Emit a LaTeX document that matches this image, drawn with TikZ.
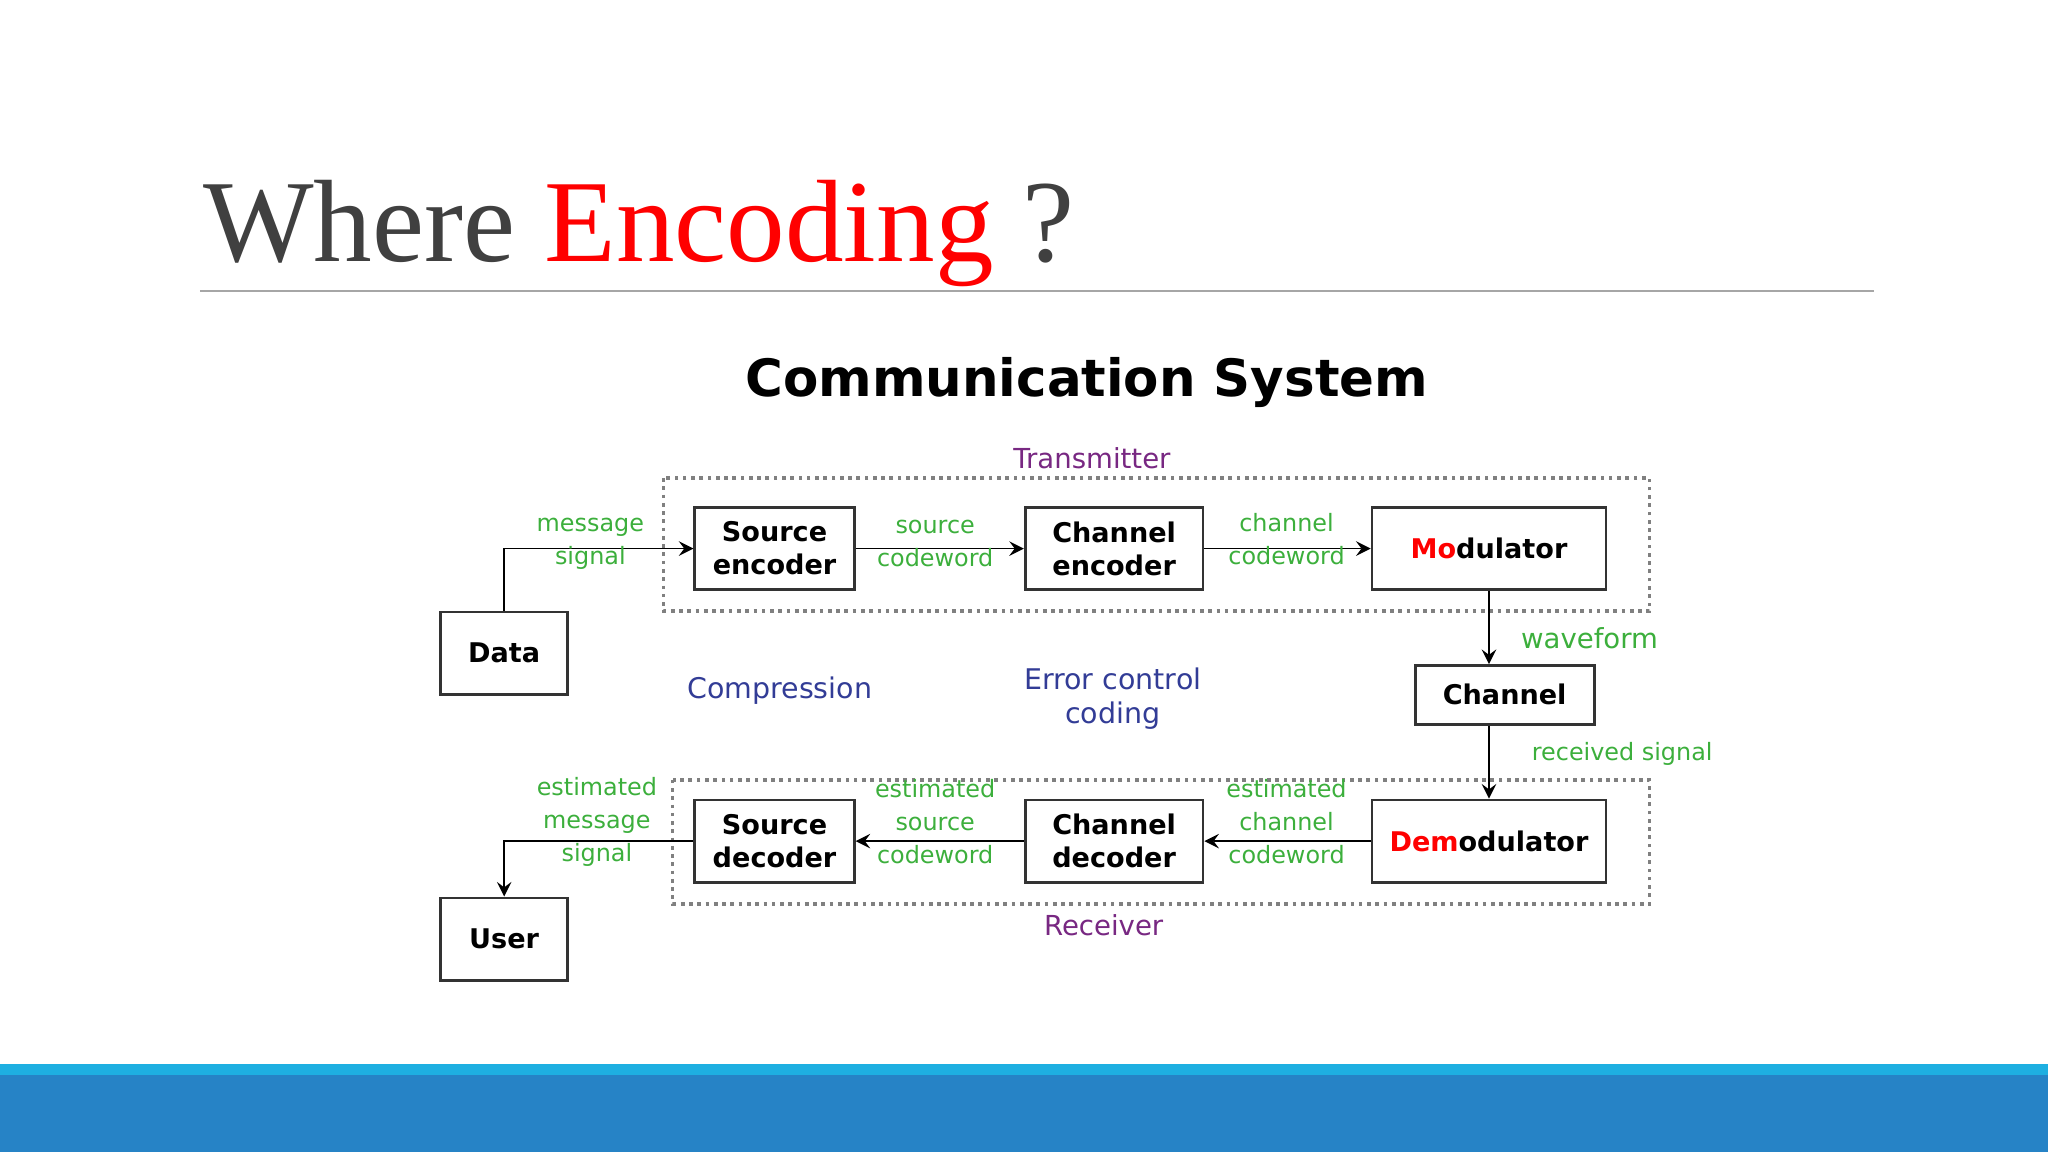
\documentclass[tikz,border=0pt]{standalone}
\usepackage{fontspec}
\setmainfont{Liberation Serif}
\newfontfamily\dejavu{DejaVu Sans}
\usetikzlibrary{positioning}
\definecolor{lblgreen}{RGB}{60,175,60}
\definecolor{lblpurple}{RGB}{120,40,130}
\definecolor{lblblue}{RGB}{50,60,150}
\definecolor{barlight}{RGB}{30,175,225}
\definecolor{bardark}{RGB}{38,131,198}
\definecolor{titlegray}{RGB}{64,64,64}
\tikzset{
  block/.style={draw=black!80, semithick, fill=white, align=center, inner sep=1pt,
    font=\dejavu\bfseries\fontsize{5.9}{7.2}\selectfont},
  lbl/.style={text=lblgreen, align=center, inner sep=0pt,
    font=\dejavu\fontsize{5.2}{7.2}\selectfont},
  group/.style={draw=gray, densely dotted, thick},
  link/.style={->, >=stealth},
}
\begin{document}
\begin{tikzpicture}[x=0.01cm, y=-0.01cm]
  \useasboundingbox (0,0) rectangle (1568,882);
  % slide frame
  \fill[barlight] (0,815) rectangle (1568,823);
  \fill[bardark] (0,823) rectangle (1568,882);
  \node[anchor=base west, inner sep=0pt, text=titlegray, font=\fontsize{25.5}{28}\selectfont] (title) at (155,200)
    {Where \textcolor{red}{Encoding} ?};
  \draw[gray!70] (153,223) -- (1435,223);
  \node[font=\dejavu\bfseries\fontsize{11.2}{13}\selectfont] (heading) at (832,293) {Communication System};

  % groups
  \draw[group] (508,366) rectangle (1263,468);
  \draw[group] (515,597) rectangle (1263,692);
  \node[text=lblpurple, font=\dejavu\fontsize{6}{7}\selectfont] (tx) at (836,351) {Transmitter};
  \node[text=lblpurple, font=\dejavu\fontsize{6}{7}\selectfont] (rx) at (845,708) {Receiver};

  % blocks
  \node[block, minimum width=1.22cm, minimum height=0.63cm] (srcenc) at (593,420) {Source\\encoder};
  \node[block, minimum width=1.36cm, minimum height=0.63cm] (chenc) at (853,420) {Channel\\encoder};
  \node[block, minimum width=1.79cm, minimum height=0.63cm] (mod) at (1140,420) {\textcolor{red}{Mo}dulator};
  \node[block, minimum width=0.97cm, minimum height=0.63cm] (data) at (386,500) {Data};
  \node[block, minimum width=1.37cm, minimum height=0.45cm] (chan) at (1152,532) {Channel};
  \node[block, minimum width=1.22cm, minimum height=0.63cm] (srcdec) at (593,644) {Source\\decoder};
  \node[block, minimum width=1.36cm, minimum height=0.63cm] (chdec) at (853,644) {Channel\\decoder};
  \node[block, minimum width=1.79cm, minimum height=0.63cm] (demod) at (1140,644) {\textcolor{red}{Dem}odulator};
  \node[block, minimum width=0.97cm, minimum height=0.63cm] (user) at (386,719) {User};

  % connectors
  \draw[link] (data.north) |- (srcenc.west);
  \draw[link] (srcenc) -- (chenc);
  \draw[link] (chenc) -- (mod);
  \draw[link] (mod.south -| 1140,0) -- (chan.north -| 1140,0);
  \draw[link] (chan.south -| 1140,0) -- (demod.north);
  \draw[link] (demod) -- (chdec);
  \draw[link] (chdec) -- (srcdec);
  \draw[link] (srcdec.west) -| (user.north);

  % labels
  \node[lbl] (msg) at (452,416) {message\\signal};
  \node[lbl] (srccw) at (716,416) {source\\codeword};
  \node[lbl] (chcw) at (985,413) {channel\\codeword};
  \node[lbl, font=\dejavu\fontsize{6}{7}\selectfont] (wave) at (1217,489) {waveform};
  \node[lbl] (rsig) at (1242,577) {received signal};
  \node[lbl] (emsg) at (457,629) {estimated\\message\\signal};
  \node[lbl] (esrc) at (716,629) {estimated\\source\\codeword};
  \node[lbl] (ech) at (985,629) {estimated\\channel\\codeword};
  \node[text=lblblue, font=\dejavu\fontsize{6.2}{7.4}\selectfont] (comp) at (597,529) {Compression};
  \node[text=lblblue, align=center, font=\dejavu\fontsize{6.2}{7.4}\selectfont] (ecc) at (852,535) {Error control\\coding};
\end{tikzpicture}
\end{document}
